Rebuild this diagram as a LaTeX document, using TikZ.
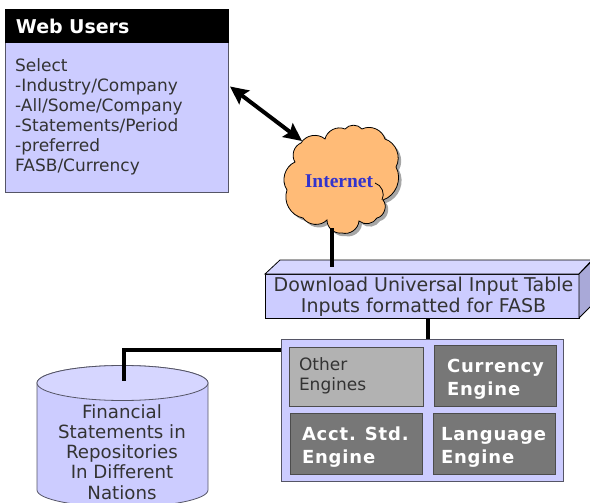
\documentclass[tikz,border=0pt]{standalone}
\usepackage{fontspec}
\setmainfont{DejaVu Sans}
\newfontfamily\cloudfont{Liberation Serif}
\newfontfamily\enginefont[LetterSpace=4.5]{DejaVu Sans}
\usetikzlibrary{arrows.meta,shadows}
\definecolor{lavender}{HTML}{CCCCFF}
\definecolor{lavendertop}{HTML}{D6D6FF}
\definecolor{lavenderside}{HTML}{A9A9D8}
\definecolor{edgegrey}{HTML}{555566}
\definecolor{inktext}{HTML}{333333}
\definecolor{enginedark}{HTML}{777777}
\definecolor{enginelight}{HTML}{B2B2B2}
\definecolor{cloudorange}{HTML}{FFBB77}
\definecolor{cloudblue}{HTML}{3333CC}
\tikzset{
  panel/.style={draw=edgegrey,line width=1pt,fill=lavender,anchor=north west,inner sep=0pt,outer sep=0pt},
  engine/.style={draw=black!70,line width=1pt,fill=enginedark,text=white,anchor=north west,inner sep=0pt,outer sep=0pt,
    align=left,font=\fontsize{18}{23}\enginefont\bfseries,minimum width=122pt,minimum height=61pt,
    execute at begin node=\rule{0pt}{21pt}},
  link/.style={line width=4pt,line cap=butt}
}
\begin{document}
\begin{tikzpicture}[x=1pt,y=-1pt,inktext,font=\fontsize{17}{20}\selectfont]
  \useasboundingbox (0,0) rectangle (590,503);

  \node [panel,minimum width=223pt,minimum height=149pt] (webbody) at (5,43) {};
  \node [panel,draw=black,fill=black,minimum width=223pt,minimum height=33pt,text=white,
    font=\fontsize{19}{20}\bfseries,text width=201pt,align=left] (webhead) at (5,10) {Web Users};
  \node [anchor=north west,inner sep=0pt,align=left] (webtext) at (15,58)
    {Select\\-Industry/Company\\-All/Some/Company\\-Statements/Period\\-preferred\\FASB/Currency};

  \draw [draw=black,line width=.8pt,fill=cloudorange,
    drop shadow={shadow xshift=3pt,shadow yshift=-3pt,fill=black,opacity=.35}]
    (301,143) to[bend left=50] (325,139) to[bend left=50] (345,129) to[bend left=50] (362,129)
    to[bend left=50] (385,139) to[bend left=50] (396,167) to[bend left=50] (383,200)
    to[bend left=60] (377,218) to[bend left=50] (359,221) to[bend left=50] (342,233)
    to[bend left=50] (327,220) to[bend left=50] (303,218) to[bend left=50] (287,190)
    to[bend left=50] (295,162) to[bend left=50] cycle;
  \draw [draw=black,line width=.8pt] (375,183) to[bend left=50] (382,200);
  \node [font=\fontsize{19.5}{20}\cloudfont\bfseries,text=cloudblue,inner sep=0pt] (internet) at (339,181) {Internet};

  \node [panel,draw=black,minimum width=314pt,minimum height=44pt] (download) at (265,274) {};
  \draw [draw=black,line width=.8pt,fill=lavendertop] (download.north west) -- ++(15,-14) -- ++(312,0)
    -- (download.north east) -- cycle;
  \draw [draw=black,line width=.8pt,fill=lavenderside] (download.north east) -- ++(13,-13) -- ++(0,44)
    -- (download.south east) -- cycle;
  \node [align=center,font=\fontsize{19}{21}\selectfont,inner sep=0pt] (downloadtext) at (423.5,297)
    {Download Universal Input Table\\Inputs formatted for FASB};

  \node [panel,minimum width=282pt,minimum height=142pt] (engines) at (281,339) {};
  \node [engine,fill=enginelight,text=inktext,font=\fontsize{17}{20}\selectfont,execute at begin node=,
    minimum width=134pt,minimum height=59pt,text width=114pt] (other) at (289,347) {Other\\Engines\\[-6pt]\mbox{}};
  \node [engine,text width=96pt] (currency) at (434,345) {Currency\\Engine};
  \node [engine,minimum width=132pt,text width=108pt] (acct) at (290,413) {Acct. Std.\\Engine};
  \node [engine,text width=106pt] (language) at (433,413) {Language\\Engine};

  \draw [draw=edgegrey,line width=.8pt,fill=lavender] (37,383) -- (37,490)
    arc [start angle=180,end angle=0,x radius=85.5,y radius=17] -- (208,383)
    arc [start angle=0,end angle=-180,x radius=85.5,y radius=17.5] -- cycle;
  \draw [draw=edgegrey,line width=.8pt,fill=lavendertop] (122.5,383) ellipse [x radius=85.5,y radius=17.5];
  \node [align=center,font=\fontsize{18.2}{20.2}\selectfont,inner sep=0pt] (repo) at (122,452)
    {Financial\\Statements in\\Repositories\\In Different\\Nations};

  \coordinate (downloadport) at (332,267);
  \coordinate (repoport) at (124,381);
  \draw [{Stealth[length=18pt,width=17pt,inset=3pt]}-{Stealth[length=18pt,width=17pt,inset=3pt]},draw=black,line width=4pt]
    ([xshift=2pt,yshift=31pt]webbody.east) -- ([xshift=-37pt,yshift=40pt]internet.center);
  \draw [link,draw=black] ([xshift=-7pt,yshift=-47pt]internet.center) -- (downloadport);
  \draw [link,draw=black] ([xshift=6pt]download.south) -- ([xshift=6pt]engines.north);
  \draw [link,draw=black] ([yshift=60pt]engines.west) -| (repoport);
\end{tikzpicture}
\end{document}
